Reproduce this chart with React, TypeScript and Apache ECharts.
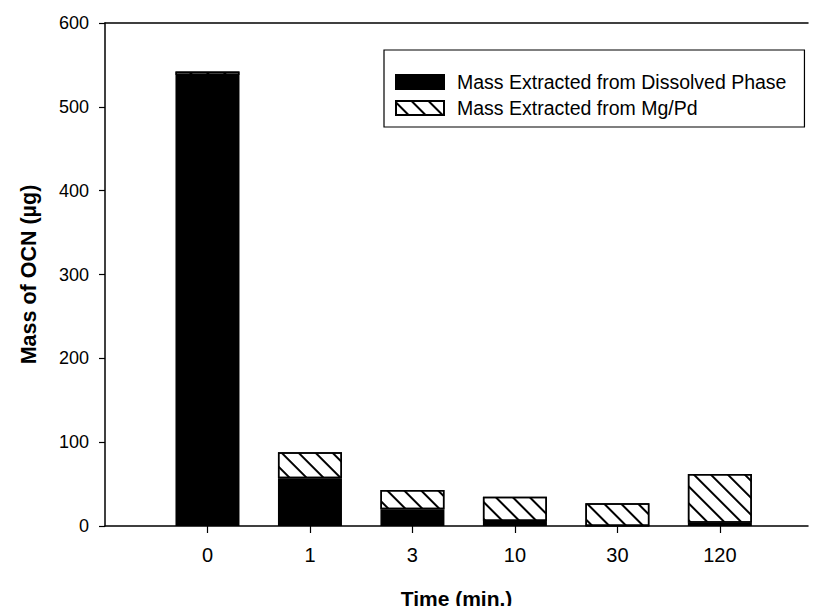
import React, { useEffect, useRef } from "react";
import * as echarts from "echarts";

const categories = ["0", "1", "3", "10", "30", "120"];
const dissolved = [538, 57, 20, 6, 0, 4];
const mgpd = [4, 31, 23, 29, 27, 58];
const yTicks = [0, 100, 200, 300, 400, 500, 600];

const FONT = "Liberation Sans, Arial, Helvetica, sans-serif";
const NARROW = "'Liberation Sans Narrow', 'Arial Narrow', Liberation Sans, Arial, sans-serif";

export default function App() {
  const ref = useRef<HTMLDivElement>(null);
  useEffect(() => {
    if (!ref.current) return;
    const chart = echarts.init(ref.current, undefined, { renderer: "svg" });
    const positions = categories.map((_, i) => i);
    const xAxisCommon = {
      type: "value" as const,
      min: -1,
      max: 5.86,
      interval: 1,
    };
    chart.setOption({
      animation: false,
      backgroundColor: "#fff",
      textStyle: { fontFamily: FONT },
      grid: { left: 105, right: 12, top: 23, bottom: 84.5 },
      legend: {
        orient: "vertical",
        left: 384,
        top: 50,
        padding: [22, 18, 9, 11],
        borderColor: "#000",
        borderWidth: 1.2,
        itemWidth: 48,
        itemHeight: 14,
        itemGap: 6,
        icon: "rect",
        textStyle: { fontSize: 19.5, color: "#000", fontFamily: FONT, lineHeight: 20, padding: [0, 0, 0, 8] },
        data: ["Mass Extracted from Dissolved Phase", "Mass Extracted from Mg/Pd"],
      },
      xAxis: [
        {
          ...xAxisCommon,
          position: "bottom",
          name: "Time (min.)",
          nameLocation: "middle",
          nameGap: 62,
          nameTextStyle: { fontSize: 21, fontWeight: "bold", color: "#000", fontFamily: FONT },
          axisLine: { show: true, onZero: false, lineStyle: { color: "#000", width: 1.5 } },
          axisTick: {
            show: true,
            length: 7,
            lineStyle: { color: "#000", width: 1.2 },
            customValues: positions,
          },
          axisLabel: {
            fontSize: 20,
            color: "#000",
            margin: 19,
            fontFamily: NARROW,
            customValues: positions,
            formatter: (v: number) => {
              const i = Math.round(v);
              return i >= 0 && i < categories.length ? categories[i] : "";
            },
          },
          splitLine: { show: false },
        },
        {
          ...xAxisCommon,
          position: "top",
          axisLine: { show: true, onZero: false, lineStyle: { color: "#000", width: 1.5 } },
          axisTick: { show: false },
          axisLabel: { show: false },
          splitLine: { show: false },
        },
      ],
      yAxis: {
        type: "value",
        min: 0,
        max: 600,
        interval: 100,
        name: "Mass of OCN (µg)",
        nameLocation: "middle",
        nameGap: 65,
        nameTextStyle: { fontSize: 21.5, fontWeight: "bold", color: "#000", fontFamily: FONT },
        axisLine: { show: true, onZero: false, lineStyle: { color: "#000", width: 1.5 } },
        axisTick: { show: true, length: 6, lineStyle: { color: "#000", width: 1.2 } },
        axisLabel: {
          fontSize: 18,
          color: "#000",
          margin: 16,
          fontFamily: FONT,
          formatter: (v: number) => (yTicks.includes(v) ? String(v) : ""),
        },
        splitLine: { show: false },
      },
      series: [
        {
          name: "Mass Extracted from Dissolved Phase",
          type: "bar",
          stack: "total",
          xAxisIndex: 0,
          barWidth: 64,
          encode: { x: 1, y: 0 },
          itemStyle: { color: "#000", borderColor: "#000", borderWidth: 1.5 },
          data: dissolved.map((v, i) => [v, positions[i]]),
        },
        {
          name: "Mass Extracted from Mg/Pd",
          type: "bar",
          stack: "total",
          xAxisIndex: 0,
          barWidth: 64,
          encode: { x: 1, y: 0 },
          itemStyle: {
            color: "#fff",
            borderColor: "#000",
            borderWidth: 1.5,
            decal: {
              symbol: "rect",
              color: "#000",
              dashArrayX: [1, 0],
              dashArrayY: [2, 10],
              rotation: Math.PI / 4,
            },
          },
          data: mgpd.map((v, i) => [v, positions[i]]),
        },
      ],
    });
    return () => chart.dispose();
  }, []);
  return <div ref={ref} style={{ width: 820, height: 614, margin: -8 }} />;
}
